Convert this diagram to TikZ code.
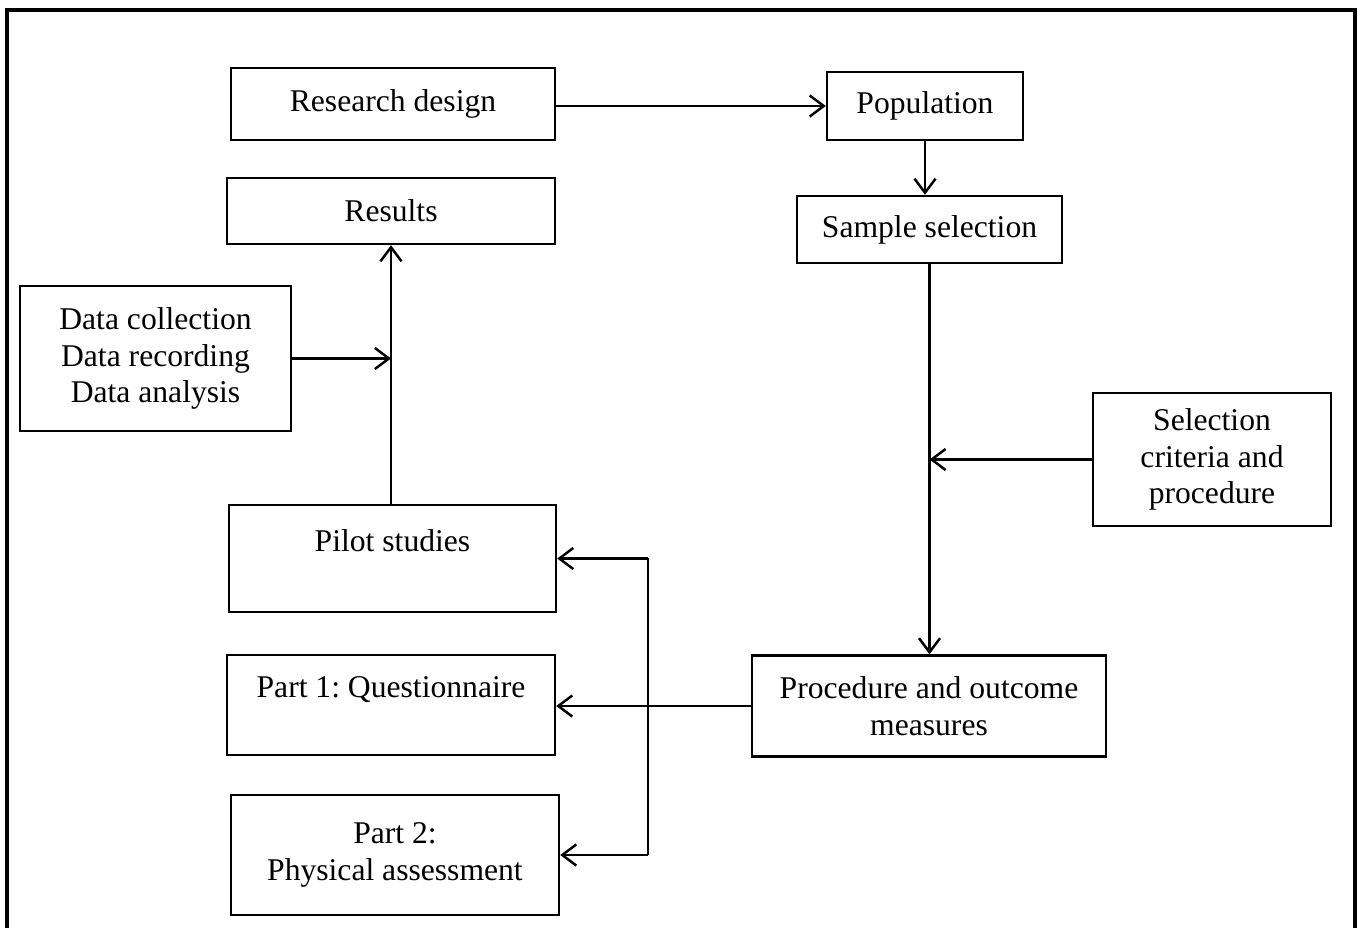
\documentclass[tikz,border=0pt]{standalone}
\usepackage{fontspec}
\setmainfont{Liberation Serif}
\usetikzlibrary{arrows.meta,calc}
\frenchspacing

\begin{document}
\begin{tikzpicture}[
  x=0.02cm, y=-0.02cm,
  font=\fontsize{18}{21}\selectfont,
  box/.style={draw, line width=1.4pt, align=center, inner sep=0pt},
  arr/.style={-{Straight Barb[length=8pt,width=12pt,line width=1.4pt]}, line width=1.4pt},
  ln/.style={line width=1.4pt}
]
\useasboundingbox (0,0) rectangle (1363,928);
\draw[line width=1.8pt] (7,10) rectangle (1355,940);

\node[box, minimum width=6.48cm, minimum height=1.44cm] (design) at (393,104) {Research design};
\node[box, minimum width=3.92cm, minimum height=1.36cm] (pop) at (925,106) {Population};
\node[box, minimum width=6.56cm, minimum height=1.32cm] (res) at (391,211) {Results};
\node[box, minimum width=5.30cm, minimum height=1.34cm] (sample) at (929.5,229.5) {Sample selection};
\node[box, minimum width=5.42cm, minimum height=2.90cm] (data) at (155.5,358.5) {Data collection\\Data recording\\Data analysis};
\node[box, minimum width=4.76cm, minimum height=2.66cm] (crit) at (1212,459.5) {Selection\\criteria and\\procedure};
\node[box, minimum width=6.54cm, minimum height=2.14cm] (pilot) at (392.5,558.5) {Pilot studies\\\mbox{}};
\node[box, minimum width=6.56cm, minimum height=2.00cm] (part1) at (391,705) {Part 1: Questionnaire\\\mbox{}};
\node[box, minimum width=7.08cm, minimum height=2.02cm] (proc) at (929,706) {Procedure and outcome\\measures};
\node[box, minimum width=6.56cm, minimum height=2.40cm] (part2) at (395,855) {Part 2:\\Physical assessment};

\coordinate (split) at (648,706);
\coordinate (ptop) at (split |- pilot.east);
\coordinate (pbot) at (split |- part2.east);

\draw[arr] (design.east |- pop.west) -- (pop.west);
\draw[arr] (pop.south) -- (pop.south |- sample.north);
\draw[arr] (sample.south) -- (sample.south |- proc.north);
\draw[arr] (crit.west) -- (crit.west -| sample.south);
\draw[arr] (pilot.north -| res.south) -- (res.south);
\draw[arr] (data.east) -- (data.east -| res.south);
\draw[arr] (proc.west) -- (proc.west -| part1.east);
\draw[ln] (ptop) -- (pbot);
\draw[arr] (ptop) -- (pilot.east);
\draw[arr] (pbot) -- (part2.east);
\end{tikzpicture}
\end{document}
